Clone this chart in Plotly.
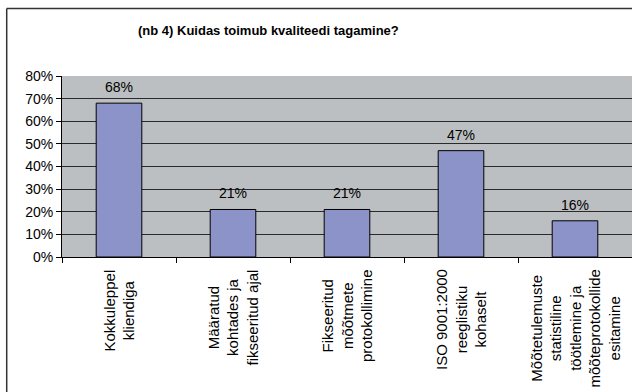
import plotly.graph_objects as go

# Survey question and answer categories
title_text = "(nb 4) Kuidas toimub kvaliteedi tagamine?"
categories = [
    "Kokkuleppel<br>kliendiga",
    "Määratud<br>kohtades ja<br>fikseeritud ajal",
    "Fikseeritud<br>mõõtmete<br>protokollimine",
    "ISO 9001:2000<br>reeglistiku<br>kohaselt",
    "Mõõtetulemuste<br>statistiline<br>töötlemine ja<br>mõõteprotokollide<br>esitamine",
]
shares = [68, 21, 21, 47, 16]  # percent of respondents
y_ticks = [0, 10, 20, 30, 40, 50, 60, 70, 80]

FONT = "Liberation Sans, Arial, sans-serif"
BAR_COLOR = "#8b93c9"
PLOT_BG = "#bcbfc1"

fig = go.Figure(
    go.Bar(
        x=categories,
        y=shares,
        width=0.4,
        marker=dict(color=BAR_COLOR, line=dict(color="#000000", width=1)),
        hoverinfo="skip",
    )
)

annotations = []
# value labels above each bar
for cat, val in zip(categories, shares):
    annotations.append(dict(
        x=cat, y=val, xref="x", yref="y",
        text=f"{val}%", showarrow=False,
        yanchor="middle", yshift=16,
        font=dict(family=FONT, size=14, color="#000000"),
    ))
# rotated category labels under the axis
for cat in categories:
    annotations.append(dict(
        x=cat, y=-0.058, xref="x", yref="paper",
        text=cat, showarrow=False, textangle=-90,
        xanchor="center", yanchor="top", align="center",
        font=dict(family=FONT, size=15, color="#000000"),
    ))
# chart title
annotations.append(dict(
    x=0.363, y=1.25, xref="paper", yref="paper",
    text="<b>" + title_text + "</b>", showarrow=False,
    xanchor="center", yanchor="middle",
    font=dict(family=FONT, size=13, color="#000000"),
))

fig.update_layout(
    width=632, height=392,
    margin=dict(l=62, r=0, t=76, b=135),
    paper_bgcolor="#ffffff",
    plot_bgcolor=PLOT_BG,
    showlegend=False,
    bargap=0.6,
    annotations=annotations,
    shapes=[
        # outer chart frame (top and left edges)
        dict(type="line", xref="paper", yref="paper",
             x0=-0.097, x1=1.05, y0=1.373, y1=1.373,
             line=dict(color="#333333", width=1.5)),
        dict(type="line", xref="paper", yref="paper",
             x0=-0.097, x1=-0.097, y0=1.373, y1=-0.8,
             line=dict(color="#333333", width=1.5)),
    ],
    font=dict(family=FONT, size=14, color="#000000"),
)

fig.update_xaxes(
    type="category",
    range=[-0.5, 4.5],
    showticklabels=False,
    showgrid=False,
    showline=True, linecolor="#000000", linewidth=1,
    ticks="outside", tickson="boundaries", ticklen=5, tickcolor="#000000",
)
fig.update_yaxes(
    range=[0, 80],
    tickvals=y_ticks,
    ticktext=[f"{v}%" for v in y_ticks],
    showgrid=True, gridcolor="#2a2a2a", gridwidth=1,
    zeroline=False,
    showline=True, linecolor="#000000", linewidth=1,
    ticks="outside", ticklen=5, tickcolor="#000000",
    tickfont=dict(family=FONT, size=14, color="#000000"),
)

fig.write_html("out.html")
